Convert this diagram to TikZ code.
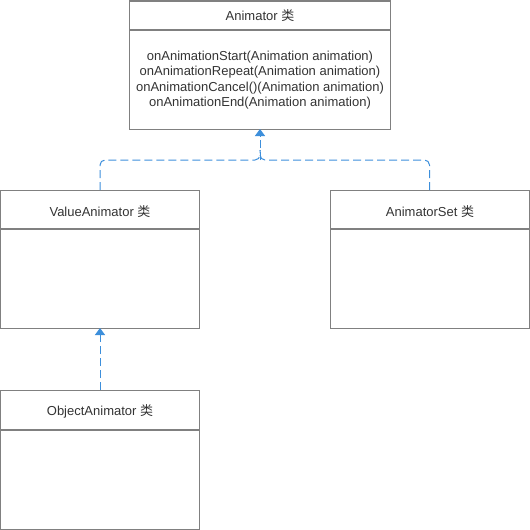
\documentclass[tikz,border=0pt]{standalone}
\usepackage{fontspec}
\setmainfont{Liberation Sans}
\newfontfamily\cjk{Noto Sans CJK SC}
\usetikzlibrary{arrows.meta}
\definecolor{boxline}{HTML}{808080}
\definecolor{txt}{HTML}{333333}
\definecolor{conn}{HTML}{3D8FDB}
\tikzset{
  classbox/.style={draw=boxline, line width=1pt, inner sep=0pt, outer sep=0pt, anchor=north west},
  lbl/.style={text=txt, font=\fontsize{13pt}{15.4pt}\selectfont, inner sep=0pt, align=center},
  headline/.style={draw=boxline, line width=1.4pt},
  connline/.style={draw=conn, line width=1pt, dash pattern=on 8pt off 4pt, rounded corners=5pt},
  arr/.style={-{Triangle[width=10pt,length=7pt]}}
}
\begin{document}
\begin{tikzpicture}[x=1pt,y=-1pt]
\useasboundingbox (0,0) rectangle (530,530);
% Animator
\node[classbox, minimum width=261pt, minimum height=128pt] (anim) at (129.5,1) {};
\draw[headline] (129.5,30) -- (390.5,30);
\node[lbl] (animT) at (260,16) {Animator {\cjk 类}};
\node[lbl] (animM) at (260,80) {onAnimationStart(Animation animation)\\onAnimationRepeat(Animation animation)\\onAnimationCancel()(Animation animation)\\onAnimationEnd(Animation animation)};
% ValueAnimator
\node[classbox, minimum width=199pt, minimum height=138pt] (val) at (0.5,190) {};
\draw[headline] (0.5,229) -- (199.5,229);
\node[lbl] (valT) at (100,212) {ValueAnimator {\cjk 类}};
% AnimatorSet
\node[classbox, minimum width=199pt, minimum height=138pt] (set) at (330,190) {};
\draw[headline] (330,229) -- (529,229);
\node[lbl] (setT) at (430,212) {AnimatorSet {\cjk 类}};
% ObjectAnimator
\node[classbox, minimum width=199pt, minimum height=139pt] (obj) at (0.5,390) {};
\draw[headline] (0.5,430) -- (199.5,430);
\node[lbl] (objT) at (100,411) {ObjectAnimator {\cjk 类}};
% connectors
\coordinate (j) at (260,160);
\draw[connline] (val.north) |- (j) -- (260,150);
\draw[connline] (set.north) |- (j) -- (260,150);
\draw[connline, arr] (j) -- (anim.south -| j);
\draw[connline, arr] (obj.north) -- (val.south);
\end{tikzpicture}
\end{document}
